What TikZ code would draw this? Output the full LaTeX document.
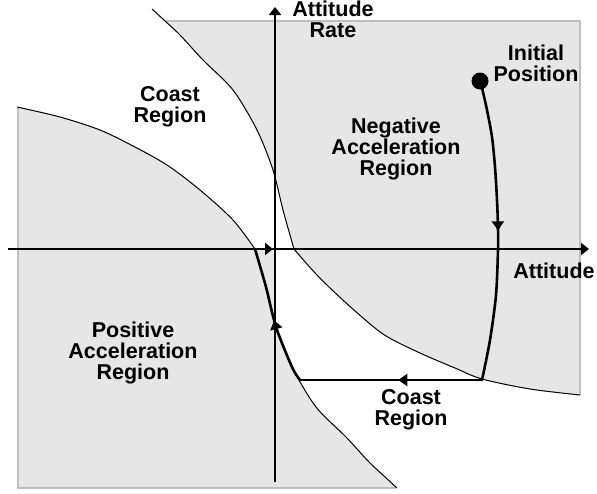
\documentclass[tikz,border=0pt]{standalone}
\usepackage{fontspec}
\setmainfont{Liberation Sans}
\usetikzlibrary{arrows.meta,decorations.markings}
\definecolor{regiongray}{RGB}{230,230,230}
\definecolor{edgegray}{RGB}{190,190,190}
\begin{document}
\begin{tikzpicture}[x=1pt,y=-1pt,
  regionfill/.style={fill=regiongray},
  regionedge/.style={draw=edgegray,line width=1.1pt},
  switchline/.style={draw=black,line width=1pt,line join=round},
  axisline/.style={line width=2.4pt,-{Triangle[length=8pt,width=12pt]}},
  traj/.style={line width=2.6pt,line cap=round,line join=round},
  midarrow/.style={postaction={decorate},decoration={markings,mark=at position #1 with {\arrow{Triangle[length=9pt,width=12pt]}}}},
  lbl/.style={font=\fontsize{21.5}{21}\selectfont\bfseries,align=center,inner sep=0pt,anchor=north},
]
\useasboundingbox (0,0) rectangle (597,493);

% named points
\coordinate (origin) at (275,249);
\coordinate (start) at (480,81);
\coordinate (turnA) at (482,380);
\coordinate (turnB) at (300,380);
\coordinate (crossB) at (255,249);
\coordinate (crossA) at (294,249);

% ---------- shaded regions ----------
% negative acceleration region (upper right)
\begin{scope}
  \clip (0,21) rectangle (580,400);
  \fill[regionfill] plot[smooth,tension=0.5] coordinates {(152,9) (165,21) (180,35) (203,60) (233,90) (257,130) (273,170) (283,210) (294,249)}
    -- plot[smooth,tension=0.5] coordinates {(294,249) (316,274) (345,302) (383,334) (420,353) (455,368) (482,379) (530,389) (580,395)}
    -- (600,395) -- (600,0) -- cycle;
\end{scope}
\draw[regionedge] (165,21) -- (580,21) -- (580,395);

% positive acceleration region (lower left)
\begin{scope}
  \clip (18,0) rectangle (600,488);
  \fill[regionfill] plot[smooth,tension=0.5] coordinates {(17,107) (60,117) (100,130) (133,146) (167,165) (200,190) (233,220) (255,249)}
    -- plot[smooth,tension=0.5] coordinates {(255,249) (266,287) (276,327) (292,367) (316,407) (346,437) (369,462) (384,476) (397,488)}
    -- (397,500) -- (0,500) -- (0,107) -- cycle;
  \fill[regionfill] (crossB) -- (origin) -- (275,326) -- cycle;
\end{scope}
\draw[regionedge] (18,107) -- (18,488) -- (395,488);

% ---------- switching curves ----------
\draw[switchline] plot[smooth,tension=0.5] coordinates {(152,9) (165,21) (180,35) (203,60) (233,90) (257,130) (273,170) (283,210) (294,249)}
  -- plot[smooth,tension=0.5] coordinates {(294,249) (316,274) (345,302) (383,334) (420,353) (455,368) (482,379) (530,389) (580,395)};
\draw[switchline] plot[smooth,tension=0.5] coordinates {(17,107) (60,117) (100,130) (133,146) (167,165) (200,190) (233,220) (255,249)}
  -- plot[smooth,tension=0.5] coordinates {(255,249) (266,287) (276,327) (292,367) (316,407) (346,437) (369,462) (384,476) (397,488)};

% ---------- axes ----------
\coordinate (xaxisL) at (8,249);
\coordinate (xaxisR) at (589,249);
\coordinate (yaxisB) at (275,482);
\coordinate (yaxisT) at (275,7);
\draw[axisline] (xaxisL) -- (xaxisR);
\draw[axisline] (yaxisB) -- (yaxisT);

% ---------- trajectory ----------
\draw[traj,midarrow=0.5] plot[smooth,tension=0.5] coordinates {(480,81) (482,88) (487,110) (492,137) (495,167) (497,200) (498,228) (498,250) (496,295) (490,340) (482,380)};
\draw[traj,midarrow=0.46] (turnA) -- (turnB);
\draw[traj,midarrow=0.47] plot[smooth,tension=0.5] coordinates {(300,380) (292,367) (276,327) (266,287) (255,249)};
\draw[traj,-{Triangle[length=8pt,width=12pt]}] (crossB) -- (273,249);
\fill (start) circle[radius=8.5pt];

% ---------- labels ----------
\node[lbl] (lrate) at (333,0.6) {Attitude\\Rate};
\node[lbl] (linit) at (536,44.6) {Initial\\Position};
\node[lbl] (lcoast1) at (170,86.6) {Coast\\Region};
\node[lbl] (lneg) at (396,117.6) {Negative\\Acceleration\\Region};
\node[lbl] (lpos) at (133,321.6) {Positive\\Acceleration\\Region};
\node[lbl] (latt) at (554,262.6) {Attitude};
\node[lbl] (lcoast2) at (411,389.6) {Coast\\Region};
\end{tikzpicture}
\end{document}
